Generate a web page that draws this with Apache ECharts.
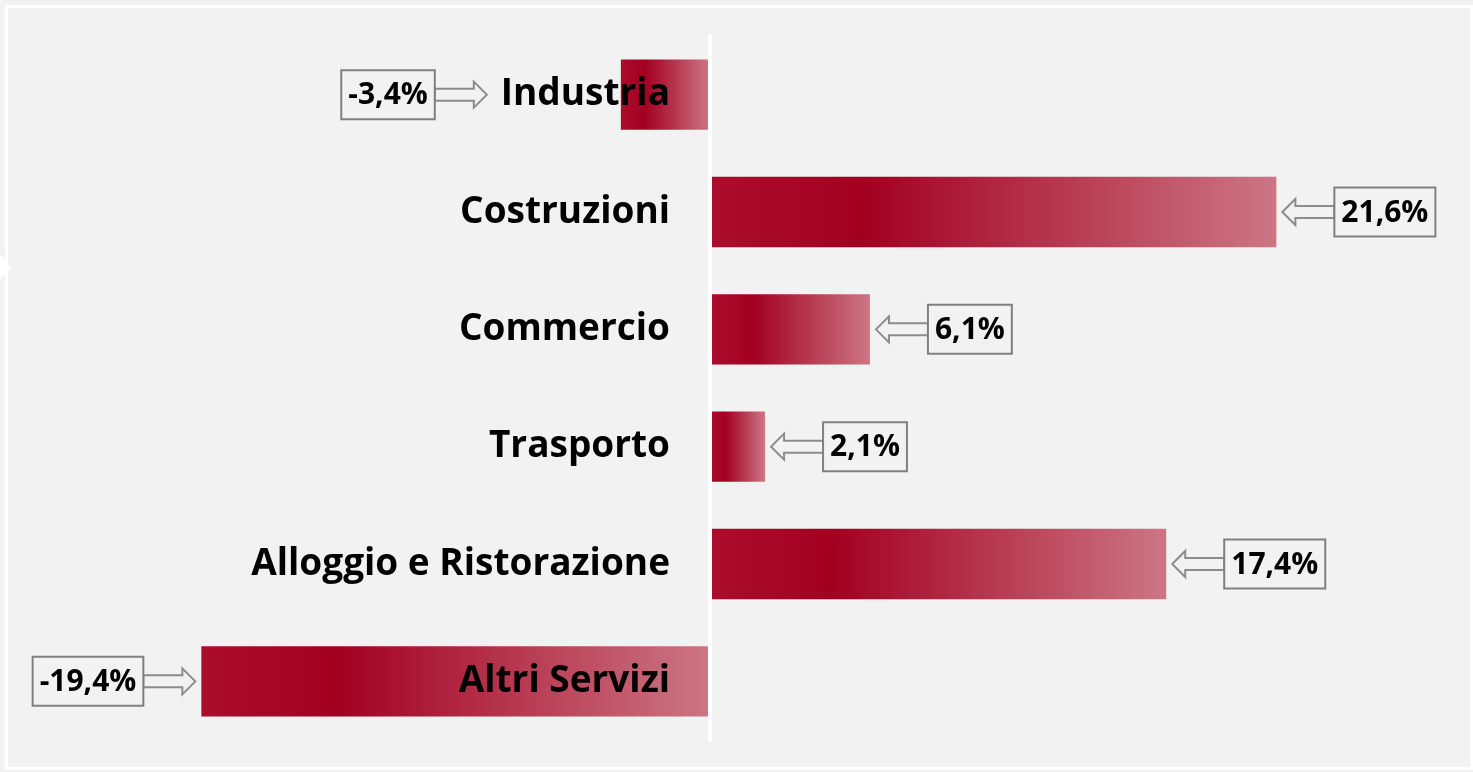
<!DOCTYPE html>
<html>
<head>
<meta charset="utf-8">
<script src="https://cdn.jsdelivr.net/npm/echarts@6/dist/echarts.min.js"></script>
<style>
  html, body { margin: 0; padding: 0; background: #f2f2f2; }
  #chart { width: 1473px; height: 772px; }
</style>
</head>
<body>
<div id="chart"></div>
<script>
// dati
const categories = ['Industria', 'Costruzioni', 'Commercio', 'Trasporto', 'Alloggio e Ristorazione', 'Altri Servizi']
const values = [-3.4, 21.6, 6.1, 2.1, 17.4, -19.4]

const catFont = 'bold 37px "Open Sans"'
const valFont = 'bold 30px "Open Sans"'
const labelMargin = 40

const measure = (function () {
  const ctx = document.createElement('canvas').getContext('2d')
  return function (text, font) {
    ctx.font = font
    return ctx.measureText(text).width
  }
})()

function fmt(v) {
  return v.toFixed(1).replace('.', ',') + '%'
}

const chart = echarts.init(document.getElementById('chart'))

// etichetta categoria + riquadro con freccia
function renderCallout(params, api) {
  const v = api.value(0)
  const idx = api.value(1)
  const end = api.coord([v, idx])
  const zero = api.coord([0, idx])
  const cy = end[1]
  const text = fmt(v)
  const w = measure(text, valFont) + 14
  const h = 49
  const arrowLen = 52
  const head = 13
  const shaft = 6
  const catRight = zero[0] - labelMargin
  let tip, boxX, dir
  if (v >= 0) {
    dir = 1
    tip = end[0] + 6
    boxX = tip + arrowLen
  } else {
    dir = -1
    const textLeft = catRight - measure(categories[idx], catFont)
    tip = Math.min(end[0], textLeft - 8) - 6
    boxX = tip - arrowLen - w
  }
  const neck = tip + dir * head
  const base = v >= 0 ? boxX : boxX + w
  const pts = [
    [tip, cy], [neck, cy - head], [neck, cy - shaft], [base, cy - shaft],
    [base, cy + shaft], [neck, cy + shaft], [neck, cy + head]
  ]
  return {
    type: 'group',
    children: [
      {
        type: 'text',
        x: catRight,
        y: cy,
        style: {
          text: categories[idx],
          font: catFont,
          fill: '#000',
          align: 'right',
          verticalAlign: 'middle'
        }
      },
      {
        type: 'polygon',
        shape: { points: pts },
        style: { fill: '#f2f2f2', stroke: '#8c8c8c', lineWidth: 2 }
      },
      {
        type: 'rect',
        shape: { x: boxX, y: cy - h / 2, width: w, height: h },
        style: { fill: '#f2f2f2', stroke: '#808080', lineWidth: 2 }
      },
      {
        type: 'text',
        x: boxX + w / 2,
        y: cy + 1,
        style: {
          text: text,
          font: valFont,
          fill: '#000',
          align: 'center',
          verticalAlign: 'middle'
        }
      }
    ]
  }
}

chart.setOption({
  backgroundColor: '#f2f2f2',
  animation: false,
  grid: {
    left: 54.5,
    right: 107.5,
    top: 36,
    bottom: 32,
    containLabel: false,
    outerBoundsMode: 'none'
  },
  xAxis: {
    type: 'value',
    min: -25,
    max: 25,
    show: false
  },
  yAxis: {
    type: 'category',
    inverse: true,
    z: 3,
    data: categories,
    axisTick: { show: false },
    axisLabel: { show: false },
    axisLine: {
      show: true,
      onZero: true,
      lineStyle: { color: '#ffffff', width: 4 }
    }
  },
  graphic: [
    {
      type: 'rect',
      shape: { x: 6.5, y: 6.5, width: 1465, height: 762 },
      style: { fill: 'none', stroke: '#ffffff', lineWidth: 3 }
    },
    {
      type: 'polygon',
      shape: { points: [[0, 255], [11, 267.5], [0, 280]] },
      style: { fill: '#ffffff' }
    }
  ],
  series: [
    {
      type: 'bar',
      barWidth: '60%',
      data: values,
      itemStyle: {
        color: new echarts.graphic.LinearGradient(0, 0, 1, 0, [
          { offset: 0, color: '#ab0d2c' },
          { offset: 0.27, color: '#a30021' },
          { offset: 1, color: '#cc7684' }
        ])
      }
    },
    {
      type: 'custom',
      clip: false,
      z: 4,
      data: values.map((v, i) => [v, i]),
      encode: { x: 0, y: 1 },
      renderItem: renderCallout
    }
  ]
})
</script>
</body>
</html>
